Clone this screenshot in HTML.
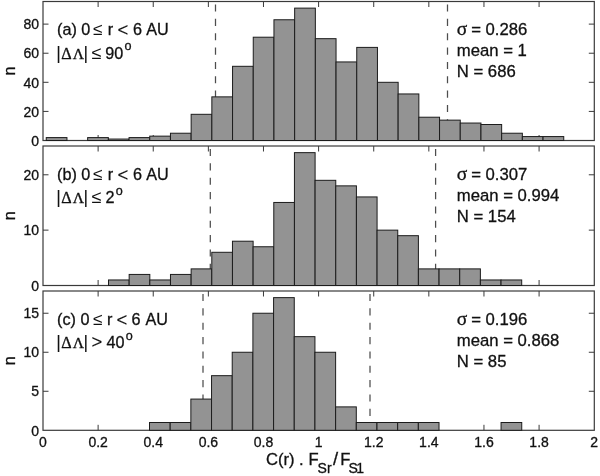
<!DOCTYPE html>
<html><head><meta charset="utf-8"><title>hist</title>
<style>
html,body{margin:0;padding:0;background:#fff;}
body{width:600px;height:476px;overflow:hidden;}
svg{display:block;filter:grayscale(1);}
text{font-family:"Liberation Sans",sans-serif;fill:#111;stroke:#111;stroke-width:0.3px;}
.t{font-size:14px;}
.l{font-size:16.2px;}
.ser{font-family:"Liberation Serif",serif;}
</style></head><body>
<svg width="600" height="476" viewBox="0 0 600 476">
<rect width="600" height="476" fill="#fff"/>

<line x1="98.12" y1="140.50" x2="98.12" y2="135.00" stroke="#3a3a3a" stroke-width="1"/>
<line x1="98.12" y1="1.50" x2="98.12" y2="7.00" stroke="#3a3a3a" stroke-width="1"/>
<line x1="153.24" y1="140.50" x2="153.24" y2="135.00" stroke="#3a3a3a" stroke-width="1"/>
<line x1="153.24" y1="1.50" x2="153.24" y2="7.00" stroke="#3a3a3a" stroke-width="1"/>
<line x1="208.36" y1="140.50" x2="208.36" y2="135.00" stroke="#3a3a3a" stroke-width="1"/>
<line x1="208.36" y1="1.50" x2="208.36" y2="7.00" stroke="#3a3a3a" stroke-width="1"/>
<line x1="263.48" y1="140.50" x2="263.48" y2="135.00" stroke="#3a3a3a" stroke-width="1"/>
<line x1="263.48" y1="1.50" x2="263.48" y2="7.00" stroke="#3a3a3a" stroke-width="1"/>
<line x1="318.60" y1="140.50" x2="318.60" y2="135.00" stroke="#3a3a3a" stroke-width="1"/>
<line x1="318.60" y1="1.50" x2="318.60" y2="7.00" stroke="#3a3a3a" stroke-width="1"/>
<line x1="373.72" y1="140.50" x2="373.72" y2="135.00" stroke="#3a3a3a" stroke-width="1"/>
<line x1="373.72" y1="1.50" x2="373.72" y2="7.00" stroke="#3a3a3a" stroke-width="1"/>
<line x1="428.84" y1="140.50" x2="428.84" y2="135.00" stroke="#3a3a3a" stroke-width="1"/>
<line x1="428.84" y1="1.50" x2="428.84" y2="7.00" stroke="#3a3a3a" stroke-width="1"/>
<line x1="483.96" y1="140.50" x2="483.96" y2="135.00" stroke="#3a3a3a" stroke-width="1"/>
<line x1="483.96" y1="1.50" x2="483.96" y2="7.00" stroke="#3a3a3a" stroke-width="1"/>
<line x1="539.08" y1="140.50" x2="539.08" y2="135.00" stroke="#3a3a3a" stroke-width="1"/>
<line x1="539.08" y1="1.50" x2="539.08" y2="7.00" stroke="#3a3a3a" stroke-width="1"/>
<text class="t" x="39.00" y="145.70" text-anchor="end">0</text>
<line x1="43.00" y1="111.41" x2="48.50" y2="111.41" stroke="#3a3a3a" stroke-width="1"/>
<line x1="594.30" y1="111.41" x2="588.80" y2="111.41" stroke="#3a3a3a" stroke-width="1"/>
<text class="t" x="39.00" y="116.61" text-anchor="end">20</text>
<line x1="43.00" y1="82.31" x2="48.50" y2="82.31" stroke="#3a3a3a" stroke-width="1"/>
<line x1="594.30" y1="82.31" x2="588.80" y2="82.31" stroke="#3a3a3a" stroke-width="1"/>
<text class="t" x="39.00" y="87.51" text-anchor="end">40</text>
<line x1="43.00" y1="53.22" x2="48.50" y2="53.22" stroke="#3a3a3a" stroke-width="1"/>
<line x1="594.30" y1="53.22" x2="588.80" y2="53.22" stroke="#3a3a3a" stroke-width="1"/>
<text class="t" x="39.00" y="58.42" text-anchor="end">60</text>
<line x1="43.00" y1="24.12" x2="48.50" y2="24.12" stroke="#3a3a3a" stroke-width="1"/>
<line x1="594.30" y1="24.12" x2="588.80" y2="24.12" stroke="#3a3a3a" stroke-width="1"/>
<text class="t" x="39.00" y="29.32" text-anchor="end">80</text>
<rect x="43.00" y="1.50" width="551.30" height="139.00" fill="none" stroke="#3a3a3a" stroke-width="1.2"/>
<line x1="215.50" y1="4.50" x2="215.50" y2="140.50" stroke="#4d4d4d" stroke-width="1.25" stroke-dasharray="7.1,7.25"/>
<line x1="447.50" y1="4.50" x2="447.50" y2="140.50" stroke="#4d4d4d" stroke-width="1.25" stroke-dasharray="7.1,7.25"/>
<rect x="46.25" y="137.59" width="20.70" height="2.91" fill="#939393" stroke="#1c1c1c" stroke-width="1"/>
<rect x="87.65" y="137.59" width="20.70" height="2.91" fill="#939393" stroke="#1c1c1c" stroke-width="1"/>
<rect x="108.35" y="139.05" width="20.70" height="1.45" fill="#939393" stroke="#1c1c1c" stroke-width="1"/>
<rect x="129.05" y="137.59" width="20.70" height="2.91" fill="#939393" stroke="#1c1c1c" stroke-width="1"/>
<rect x="149.75" y="136.14" width="20.70" height="4.36" fill="#939393" stroke="#1c1c1c" stroke-width="1"/>
<rect x="170.45" y="133.23" width="20.70" height="7.27" fill="#939393" stroke="#1c1c1c" stroke-width="1"/>
<rect x="191.15" y="114.31" width="20.70" height="26.19" fill="#939393" stroke="#1c1c1c" stroke-width="1"/>
<rect x="211.85" y="96.86" width="20.70" height="43.64" fill="#939393" stroke="#1c1c1c" stroke-width="1"/>
<rect x="232.55" y="66.31" width="20.70" height="74.19" fill="#939393" stroke="#1c1c1c" stroke-width="1"/>
<rect x="253.25" y="37.21" width="20.70" height="103.29" fill="#939393" stroke="#1c1c1c" stroke-width="1"/>
<rect x="273.95" y="19.76" width="20.70" height="120.74" fill="#939393" stroke="#1c1c1c" stroke-width="1"/>
<rect x="294.65" y="8.12" width="20.70" height="132.38" fill="#939393" stroke="#1c1c1c" stroke-width="1"/>
<rect x="315.35" y="38.67" width="20.70" height="101.83" fill="#939393" stroke="#1c1c1c" stroke-width="1"/>
<rect x="336.05" y="61.94" width="20.70" height="78.56" fill="#939393" stroke="#1c1c1c" stroke-width="1"/>
<rect x="356.75" y="47.40" width="20.70" height="93.10" fill="#939393" stroke="#1c1c1c" stroke-width="1"/>
<rect x="377.45" y="82.31" width="20.70" height="58.19" fill="#939393" stroke="#1c1c1c" stroke-width="1"/>
<rect x="398.15" y="93.95" width="20.70" height="46.55" fill="#939393" stroke="#1c1c1c" stroke-width="1"/>
<rect x="418.85" y="117.22" width="20.70" height="23.28" fill="#939393" stroke="#1c1c1c" stroke-width="1"/>
<rect x="439.55" y="120.13" width="20.70" height="20.37" fill="#939393" stroke="#1c1c1c" stroke-width="1"/>
<rect x="460.25" y="123.04" width="20.70" height="17.46" fill="#939393" stroke="#1c1c1c" stroke-width="1"/>
<rect x="480.95" y="124.50" width="20.70" height="16.00" fill="#939393" stroke="#1c1c1c" stroke-width="1"/>
<rect x="501.65" y="133.23" width="20.70" height="7.27" fill="#939393" stroke="#1c1c1c" stroke-width="1"/>
<rect x="522.35" y="136.57" width="20.70" height="3.93" fill="#939393" stroke="#1c1c1c" stroke-width="1"/>
<rect x="543.05" y="136.57" width="20.70" height="3.93" fill="#939393" stroke="#1c1c1c" stroke-width="1"/>
<text class="l" transform="translate(14.6,71.00) rotate(-90)" text-anchor="middle">n</text>
<text class="l" y="35.00"><tspan x="57">(a)</tspan><tspan x="81.3">0</tspan><tspan x="93.1" font-size="17.2" stroke-width="0">≤</tspan><tspan x="107.70">r</tspan><tspan x="117.40" dy="1.3" font-size="18.5" stroke-width="0.1">&lt;</tspan><tspan x="133.00" dy="-1.3">6</tspan><tspan x="146.20">AU</tspan></text>
<text class="l" y="58.80"><tspan x="56.2" font-size="17.6" stroke-width="0.1">|</tspan><tspan class="ser" x="61.2" font-size="16.2">Δ</tspan><tspan class="ser" x="72.7" font-size="15.6">Λ</tspan><tspan x="83.5" font-size="17.6" stroke-width="0.1">|</tspan><tspan x="91.8" dy="0" font-size="18" stroke-width="0">≤</tspan><tspan x="105.3" dy="0">90</tspan><tspan font-size="12.6" dx="1.2" dy="-8.6">o</tspan></text>
<text class="l" style="font-size:16.7px" x="456.8" y="35.20"><tspan class="ser" style="font-size:19.5px">σ</tspan><tspan x="471.2">= 0.286</tspan></text>
<text class="l" style="font-size:16.7px" x="456.8" y="56.10">mean = 1</text>
<text class="l" style="font-size:16.7px" x="456.8" y="77.00">N = 686</text>
<line x1="98.12" y1="285.50" x2="98.12" y2="280.00" stroke="#3a3a3a" stroke-width="1"/>
<line x1="98.12" y1="146.00" x2="98.12" y2="151.50" stroke="#3a3a3a" stroke-width="1"/>
<line x1="153.24" y1="285.50" x2="153.24" y2="280.00" stroke="#3a3a3a" stroke-width="1"/>
<line x1="153.24" y1="146.00" x2="153.24" y2="151.50" stroke="#3a3a3a" stroke-width="1"/>
<line x1="208.36" y1="285.50" x2="208.36" y2="280.00" stroke="#3a3a3a" stroke-width="1"/>
<line x1="208.36" y1="146.00" x2="208.36" y2="151.50" stroke="#3a3a3a" stroke-width="1"/>
<line x1="263.48" y1="285.50" x2="263.48" y2="280.00" stroke="#3a3a3a" stroke-width="1"/>
<line x1="263.48" y1="146.00" x2="263.48" y2="151.50" stroke="#3a3a3a" stroke-width="1"/>
<line x1="318.60" y1="285.50" x2="318.60" y2="280.00" stroke="#3a3a3a" stroke-width="1"/>
<line x1="318.60" y1="146.00" x2="318.60" y2="151.50" stroke="#3a3a3a" stroke-width="1"/>
<line x1="373.72" y1="285.50" x2="373.72" y2="280.00" stroke="#3a3a3a" stroke-width="1"/>
<line x1="373.72" y1="146.00" x2="373.72" y2="151.50" stroke="#3a3a3a" stroke-width="1"/>
<line x1="428.84" y1="285.50" x2="428.84" y2="280.00" stroke="#3a3a3a" stroke-width="1"/>
<line x1="428.84" y1="146.00" x2="428.84" y2="151.50" stroke="#3a3a3a" stroke-width="1"/>
<line x1="483.96" y1="285.50" x2="483.96" y2="280.00" stroke="#3a3a3a" stroke-width="1"/>
<line x1="483.96" y1="146.00" x2="483.96" y2="151.50" stroke="#3a3a3a" stroke-width="1"/>
<line x1="539.08" y1="285.50" x2="539.08" y2="280.00" stroke="#3a3a3a" stroke-width="1"/>
<line x1="539.08" y1="146.00" x2="539.08" y2="151.50" stroke="#3a3a3a" stroke-width="1"/>
<text class="t" x="39.00" y="290.70" text-anchor="end">0</text>
<line x1="43.00" y1="230.14" x2="48.50" y2="230.14" stroke="#3a3a3a" stroke-width="1"/>
<line x1="594.30" y1="230.14" x2="588.80" y2="230.14" stroke="#3a3a3a" stroke-width="1"/>
<text class="t" x="39.00" y="235.34" text-anchor="end">10</text>
<line x1="43.00" y1="174.79" x2="48.50" y2="174.79" stroke="#3a3a3a" stroke-width="1"/>
<line x1="594.30" y1="174.79" x2="588.80" y2="174.79" stroke="#3a3a3a" stroke-width="1"/>
<text class="t" x="39.00" y="179.99" text-anchor="end">20</text>
<rect x="43.00" y="146.00" width="551.30" height="139.50" fill="none" stroke="#3a3a3a" stroke-width="1.2"/>
<line x1="210.30" y1="149.00" x2="210.30" y2="285.50" stroke="#4d4d4d" stroke-width="1.25" stroke-dasharray="7.1,7.25"/>
<line x1="435.60" y1="149.00" x2="435.60" y2="285.50" stroke="#4d4d4d" stroke-width="1.25" stroke-dasharray="7.1,7.25"/>
<rect x="108.50" y="279.96" width="20.66" height="5.54" fill="#939393" stroke="#1c1c1c" stroke-width="1"/>
<rect x="129.16" y="274.43" width="20.66" height="11.07" fill="#939393" stroke="#1c1c1c" stroke-width="1"/>
<rect x="149.82" y="279.96" width="20.66" height="5.54" fill="#939393" stroke="#1c1c1c" stroke-width="1"/>
<rect x="170.48" y="274.43" width="20.66" height="11.07" fill="#939393" stroke="#1c1c1c" stroke-width="1"/>
<rect x="191.14" y="268.89" width="20.66" height="16.61" fill="#939393" stroke="#1c1c1c" stroke-width="1"/>
<rect x="211.80" y="252.29" width="20.66" height="33.21" fill="#939393" stroke="#1c1c1c" stroke-width="1"/>
<rect x="232.46" y="241.21" width="20.66" height="44.29" fill="#939393" stroke="#1c1c1c" stroke-width="1"/>
<rect x="253.12" y="246.75" width="20.66" height="38.75" fill="#939393" stroke="#1c1c1c" stroke-width="1"/>
<rect x="273.78" y="202.46" width="20.66" height="83.04" fill="#939393" stroke="#1c1c1c" stroke-width="1"/>
<rect x="294.44" y="152.64" width="20.66" height="132.86" fill="#939393" stroke="#1c1c1c" stroke-width="1"/>
<rect x="315.10" y="180.32" width="20.66" height="105.18" fill="#939393" stroke="#1c1c1c" stroke-width="1"/>
<rect x="335.76" y="185.86" width="20.66" height="99.64" fill="#939393" stroke="#1c1c1c" stroke-width="1"/>
<rect x="356.42" y="196.93" width="20.66" height="88.57" fill="#939393" stroke="#1c1c1c" stroke-width="1"/>
<rect x="377.08" y="230.14" width="20.66" height="55.36" fill="#939393" stroke="#1c1c1c" stroke-width="1"/>
<rect x="397.74" y="235.68" width="20.66" height="49.82" fill="#939393" stroke="#1c1c1c" stroke-width="1"/>
<rect x="418.40" y="268.89" width="20.66" height="16.61" fill="#939393" stroke="#1c1c1c" stroke-width="1"/>
<rect x="439.06" y="268.89" width="20.66" height="16.61" fill="#939393" stroke="#1c1c1c" stroke-width="1"/>
<rect x="459.72" y="268.89" width="20.66" height="16.61" fill="#939393" stroke="#1c1c1c" stroke-width="1"/>
<rect x="480.38" y="279.96" width="20.66" height="5.54" fill="#939393" stroke="#1c1c1c" stroke-width="1"/>
<rect x="501.04" y="279.96" width="20.66" height="5.54" fill="#939393" stroke="#1c1c1c" stroke-width="1"/>
<text class="l" transform="translate(14.6,215.75) rotate(-90)" text-anchor="middle">n</text>
<text class="l" y="179.50"><tspan x="57">(b)</tspan><tspan x="81.3">0</tspan><tspan x="93.1" font-size="17.2" stroke-width="0">≤</tspan><tspan x="107.70">r</tspan><tspan x="117.40" dy="1.3" font-size="18.5" stroke-width="0.1">&lt;</tspan><tspan x="133.00" dy="-1.3">6</tspan><tspan x="146.20">AU</tspan></text>
<text class="l" y="203.30"><tspan x="56.2" font-size="17.6" stroke-width="0.1">|</tspan><tspan class="ser" x="61.2" font-size="16.2">Δ</tspan><tspan class="ser" x="72.7" font-size="15.6">Λ</tspan><tspan x="83.5" font-size="17.6" stroke-width="0.1">|</tspan><tspan x="91.8" dy="0" font-size="18" stroke-width="0">≤</tspan><tspan x="105.5" dy="0">2</tspan><tspan font-size="12.6" dx="1.2" dy="-8.6">o</tspan></text>
<text class="l" style="font-size:16.7px" x="456.8" y="179.70"><tspan class="ser" style="font-size:19.5px">σ</tspan><tspan x="471.2">= 0.307</tspan></text>
<text class="l" style="font-size:16.7px" x="456.8" y="200.60">mean = 0.994</text>
<text class="l" style="font-size:16.7px" x="456.8" y="221.50">N = 154</text>
<line x1="98.12" y1="430.30" x2="98.12" y2="424.80" stroke="#3a3a3a" stroke-width="1"/>
<line x1="98.12" y1="291.00" x2="98.12" y2="296.50" stroke="#3a3a3a" stroke-width="1"/>
<line x1="153.24" y1="430.30" x2="153.24" y2="424.80" stroke="#3a3a3a" stroke-width="1"/>
<line x1="153.24" y1="291.00" x2="153.24" y2="296.50" stroke="#3a3a3a" stroke-width="1"/>
<line x1="208.36" y1="430.30" x2="208.36" y2="424.80" stroke="#3a3a3a" stroke-width="1"/>
<line x1="208.36" y1="291.00" x2="208.36" y2="296.50" stroke="#3a3a3a" stroke-width="1"/>
<line x1="263.48" y1="430.30" x2="263.48" y2="424.80" stroke="#3a3a3a" stroke-width="1"/>
<line x1="263.48" y1="291.00" x2="263.48" y2="296.50" stroke="#3a3a3a" stroke-width="1"/>
<line x1="318.60" y1="430.30" x2="318.60" y2="424.80" stroke="#3a3a3a" stroke-width="1"/>
<line x1="318.60" y1="291.00" x2="318.60" y2="296.50" stroke="#3a3a3a" stroke-width="1"/>
<line x1="373.72" y1="430.30" x2="373.72" y2="424.80" stroke="#3a3a3a" stroke-width="1"/>
<line x1="373.72" y1="291.00" x2="373.72" y2="296.50" stroke="#3a3a3a" stroke-width="1"/>
<line x1="428.84" y1="430.30" x2="428.84" y2="424.80" stroke="#3a3a3a" stroke-width="1"/>
<line x1="428.84" y1="291.00" x2="428.84" y2="296.50" stroke="#3a3a3a" stroke-width="1"/>
<line x1="483.96" y1="430.30" x2="483.96" y2="424.80" stroke="#3a3a3a" stroke-width="1"/>
<line x1="483.96" y1="291.00" x2="483.96" y2="296.50" stroke="#3a3a3a" stroke-width="1"/>
<line x1="539.08" y1="430.30" x2="539.08" y2="424.80" stroke="#3a3a3a" stroke-width="1"/>
<line x1="539.08" y1="291.00" x2="539.08" y2="296.50" stroke="#3a3a3a" stroke-width="1"/>
<text class="t" x="39.00" y="435.50" text-anchor="end">0</text>
<line x1="43.00" y1="391.28" x2="48.50" y2="391.28" stroke="#3a3a3a" stroke-width="1"/>
<line x1="594.30" y1="391.28" x2="588.80" y2="391.28" stroke="#3a3a3a" stroke-width="1"/>
<text class="t" x="39.00" y="396.48" text-anchor="end">5</text>
<line x1="43.00" y1="352.26" x2="48.50" y2="352.26" stroke="#3a3a3a" stroke-width="1"/>
<line x1="594.30" y1="352.26" x2="588.80" y2="352.26" stroke="#3a3a3a" stroke-width="1"/>
<text class="t" x="39.00" y="357.46" text-anchor="end">10</text>
<line x1="43.00" y1="313.24" x2="48.50" y2="313.24" stroke="#3a3a3a" stroke-width="1"/>
<line x1="594.30" y1="313.24" x2="588.80" y2="313.24" stroke="#3a3a3a" stroke-width="1"/>
<text class="t" x="39.00" y="318.44" text-anchor="end">15</text>
<rect x="43.00" y="291.00" width="551.30" height="139.30" fill="none" stroke="#3a3a3a" stroke-width="1.2"/>
<line x1="203.00" y1="294.00" x2="203.00" y2="430.30" stroke="#4d4d4d" stroke-width="1.25" stroke-dasharray="7.1,7.25"/>
<line x1="370.00" y1="294.00" x2="370.00" y2="430.30" stroke="#4d4d4d" stroke-width="1.25" stroke-dasharray="7.1,7.25"/>
<rect x="149.50" y="422.50" width="20.68" height="7.80" fill="#939393" stroke="#1c1c1c" stroke-width="1"/>
<rect x="170.18" y="422.50" width="20.68" height="7.80" fill="#939393" stroke="#1c1c1c" stroke-width="1"/>
<rect x="190.86" y="399.08" width="20.68" height="31.22" fill="#939393" stroke="#1c1c1c" stroke-width="1"/>
<rect x="211.54" y="375.67" width="20.68" height="54.63" fill="#939393" stroke="#1c1c1c" stroke-width="1"/>
<rect x="232.22" y="352.26" width="20.68" height="78.04" fill="#939393" stroke="#1c1c1c" stroke-width="1"/>
<rect x="252.90" y="313.24" width="20.68" height="117.06" fill="#939393" stroke="#1c1c1c" stroke-width="1"/>
<rect x="273.58" y="297.63" width="20.68" height="132.67" fill="#939393" stroke="#1c1c1c" stroke-width="1"/>
<rect x="294.26" y="336.65" width="20.68" height="93.65" fill="#939393" stroke="#1c1c1c" stroke-width="1"/>
<rect x="314.94" y="352.26" width="20.68" height="78.04" fill="#939393" stroke="#1c1c1c" stroke-width="1"/>
<rect x="335.62" y="406.89" width="20.68" height="23.41" fill="#939393" stroke="#1c1c1c" stroke-width="1"/>
<rect x="356.30" y="422.50" width="20.68" height="7.80" fill="#939393" stroke="#1c1c1c" stroke-width="1"/>
<rect x="376.98" y="422.50" width="20.68" height="7.80" fill="#939393" stroke="#1c1c1c" stroke-width="1"/>
<rect x="397.66" y="422.50" width="20.68" height="7.80" fill="#939393" stroke="#1c1c1c" stroke-width="1"/>
<rect x="418.34" y="422.50" width="20.68" height="7.80" fill="#939393" stroke="#1c1c1c" stroke-width="1"/>
<rect x="501.06" y="422.50" width="20.68" height="7.80" fill="#939393" stroke="#1c1c1c" stroke-width="1"/>
<text class="l" transform="translate(14.6,360.65) rotate(-90)" text-anchor="middle">n</text>
<text class="l" y="324.50"><tspan x="57">(c)</tspan><tspan x="80.5">0</tspan><tspan x="93.1" font-size="17.2" stroke-width="0">≤</tspan><tspan x="106.90">r</tspan><tspan x="116.60" dy="1.3" font-size="18.5" stroke-width="0.1">&lt;</tspan><tspan x="131.40" dy="-1.3">6</tspan><tspan x="145.40">AU</tspan></text>
<text class="l" y="348.30"><tspan x="56.2" font-size="17.6" stroke-width="0.1">|</tspan><tspan class="ser" x="61.2" font-size="16.2">Δ</tspan><tspan class="ser" x="72.7" font-size="15.6">Λ</tspan><tspan x="83.5" font-size="17.6" stroke-width="0.1">|</tspan><tspan x="91.6" dy="0" font-size="18.5" stroke-width="0.1">&gt;</tspan><tspan x="106.6" dy="0">40</tspan><tspan font-size="12.6" dx="1.2" dy="-8.6">o</tspan></text>
<text class="l" style="font-size:16.7px" x="456.8" y="324.70"><tspan class="ser" style="font-size:19.5px">σ</tspan><tspan x="471.2">= 0.196</tspan></text>
<text class="l" style="font-size:16.7px" x="456.8" y="345.60">mean = 0.868</text>
<text class="l" style="font-size:16.7px" x="456.8" y="366.50">N = 85</text>
<text class="t" x="43.00" y="446.6" text-anchor="middle">0</text>
<text class="t" x="98.12" y="446.6" text-anchor="middle">0.2</text>
<text class="t" x="153.24" y="446.6" text-anchor="middle">0.4</text>
<text class="t" x="208.36" y="446.6" text-anchor="middle">0.6</text>
<text class="t" x="263.48" y="446.6" text-anchor="middle">0.8</text>
<text class="t" x="318.60" y="446.6" text-anchor="middle">1</text>
<text class="t" x="373.72" y="446.6" text-anchor="middle">1.2</text>
<text class="t" x="428.84" y="446.6" text-anchor="middle">1.4</text>
<text class="t" x="483.96" y="446.6" text-anchor="middle">1.6</text>
<text class="t" x="539.08" y="446.6" text-anchor="middle">1.8</text>
<text class="t" x="594.20" y="446.6" text-anchor="middle">2</text>
<text class="l" style="font-size:16.6px" y="465.0"><tspan x="266">C(r)</tspan><tspan x="299.0">.</tspan><tspan x="308.4">F</tspan><tspan x="333.0" style="font-size:18.4px">/</tspan><tspan x="340.3">F</tspan></text>
<text class="l" style="font-size:14px" y="473.3"><tspan x="317.6">Sr</tspan><tspan x="348.4">S</tspan><tspan dx="-1.6">1</tspan></text>
</svg></body></html>
